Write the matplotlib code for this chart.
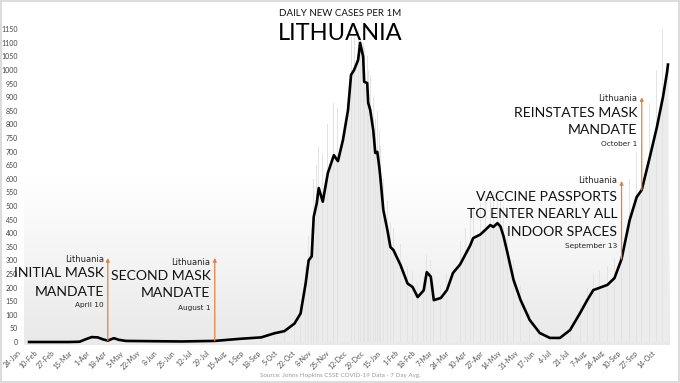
import matplotlib
matplotlib.use('Agg')
import matplotlib.pyplot as plt
import matplotlib.dates as mdates
from matplotlib.colors import LinearSegmentedColormap
import numpy as np
import pandas as pd

plt.rcParams['font.family'] = ['Lato', 'DejaVu Sans']

# 7-day average, new cases per 1M
dates = ['2020-01-31', '2020-02-20', '2020-03-10', '2020-03-21', '2020-03-27', '2020-04-02', '2020-04-08',
         '2020-04-13', '2020-04-18', '2020-04-24', '2020-04-29', '2020-05-06', '2020-05-31', '2020-06-30',
         '2020-08-02', '2020-08-18', '2020-08-28', '2020-09-17', '2020-09-30', '2020-10-10', '2020-10-20',
         '2020-10-26', '2020-10-31', '2020-11-03', '2020-11-06', '2020-11-08', '2020-11-11', '2020-11-13',
         '2020-11-17', '2020-11-22', '2020-11-28', '2020-12-02', '2020-12-07', '2020-12-12', '2020-12-15',
         '2020-12-18', '2020-12-22', '2020-12-24', '2020-12-27', '2020-12-28', '2020-12-31', '2021-01-01',
         '2021-01-03', '2021-01-06', '2021-01-08', '2021-01-10', '2021-01-12', '2021-01-13', '2021-01-16',
         '2021-01-20', '2021-01-23', '2021-01-26', '2021-02-02', '2021-02-09', '2021-02-14', '2021-02-19',
         '2021-02-25', '2021-02-28', '2021-03-04', '2021-03-07', '2021-03-14', '2021-03-20', '2021-03-26',
         '2021-04-02', '2021-04-07', '2021-04-12', '2021-04-15', '2021-04-22', '2021-04-27', '2021-05-02',
         '2021-05-05', '2021-05-09', '2021-05-12', '2021-05-15', '2021-05-19', '2021-05-25', '2021-06-01',
         '2021-06-10', '2021-06-20', '2021-06-30', '2021-07-10', '2021-07-20', '2021-07-30', '2021-08-06',
         '2021-08-12', '2021-08-18', '2021-08-26', '2021-09-02', '2021-09-09', '2021-09-17', '2021-09-24',
         '2021-09-29', '2021-10-07', '2021-10-14', '2021-10-20', '2021-10-24', '2021-10-25']
avg = [0, 0, 0, 1, 10, 18, 17, 10, 5, 14,
       8, 4, 3, 2, 4, 9, 12, 17, 32, 40,
       68, 105, 215, 300, 315, 460, 510, 566, 516, 621,
       687, 665, 743, 853, 982, 1000, 1037, 1100, 1049, 957,
       952, 879, 853, 779, 695, 699, 643, 607, 485, 412,
       349, 338, 283, 215, 202, 165, 190, 257, 240, 154,
       162, 191, 254, 285, 320, 355, 382, 395, 412, 430,
       423, 437, 425, 390, 327, 228, 154, 81, 33, 15,
       15, 44, 107, 154, 191, 199, 210, 235, 305, 448,
       533, 559, 680, 790, 900, 990, 1020]
# faint daily bars behind the line
daily = [0, 0, 0, 2, 14, 25, 22, 15, 8, 20,
         12, 6, 5, 4, 6, 14, 18, 25, 45, 55,
         95, 140, 280, 390, 420, 600, 650, 720, 690, 800,
         880, 860, 950, 1050, 1120, 1130, 1150, 1120, 1100, 1080,
         1050, 1000, 980, 900, 820, 850, 780, 720, 600, 520,
         440, 420, 360, 280, 260, 220, 240, 320, 300, 210,
         210, 250, 330, 370, 420, 460, 500, 510, 540, 560,
         550, 560, 540, 500, 420, 300, 210, 110, 50, 25,
         25, 60, 140, 200, 250, 260, 280, 310, 400, 600,
         700, 740, 880, 1000, 1150, 1120, 1100]

yticks = list(range(0, 1151, 50))

# annotations
note_dates = ['2020-04-18', '2020-08-02', '2021-09-09', '2021-09-29']
note_base = [5, 4, 305, 559]
note_top = [309, 309, 592, 900]
note_heads = [['INITIAL MASK', 'MANDATE'], ['SECOND MASK', 'MANDATE'],
              ['VACCINE PASSPORTS', 'TO ENTER NEARLY ALL', 'INDOOR SPACES'],
              ['REINSTATES MASK', 'MANDATE']]
note_when = ['April 10', 'August 1', 'September 13', 'October 1']
note_small_y = [305, 294, 592, 896]
note_line_y = [[254, 185], [244, 179], [534, 469, 405], [841, 779]]
note_when_y = [136, 125, 354, 728]

x = pd.to_datetime(dates)

fig = plt.figure(figsize=(6.8, 3.83), dpi=100)
fig.patch.set_edgecolor('#dcdcdc')
fig.patch.set_linewidth(1.5)
ax = fig.add_axes([22/680, 38/383, 648/680, 337/383])

x0 = mdates.date2num(pd.Timestamp('2020-01-26'))
x1 = mdates.date2num(pd.Timestamp('2021-10-27'))
y0, y1 = -11, 1228
cmap = LinearSegmentedColormap.from_list('bg', ['#ffffff', '#ffffff', '#e9e9e9'])
ax.imshow(np.linspace(0, 1, 256).reshape(-1, 1), cmap=cmap, extent=[x0, x1, y0, y1],
          aspect='auto', origin='upper', zorder=0)

ax.fill_between(x, avg, 0, color='#ececec', lw=0, zorder=1)
ax.bar(x, daily, width=0.9, color='#e3e3e3', lw=0, zorder=1)
ax.plot(x, avg, color='black', lw=1.9, zorder=3, solid_joinstyle='round')

ax.set_xlim(x0, x1)
ax.set_ylim(y0, y1)
for s in ax.spines.values():
    s.set_visible(False)

ax.set_yticks(yticks)
ax.set_yticklabels([str(v) for v in yticks], fontsize=5, color='#444444')
ticks = pd.date_range('2020-01-24', '2021-10-14', freq='17D')
ax.set_xticks(ticks)
ax.set_xticklabels([f"{t.day}-{t.strftime('%b')}" for t in ticks], rotation=45, ha='right',
                   fontsize=5, color='#555555')
ax.tick_params(length=0, pad=3)

orange = '#e2823c'
small = ['DejaVu Sans']
for i in range(len(note_dates)):
    d = pd.Timestamp(note_dates[i])
    ax.annotate('', xy=(d, note_top[i]), xytext=(d, note_base[i]),
                arrowprops=dict(arrowstyle='-|>', color=orange, lw=0.9, mutation_scale=5,
                                shrinkA=0, shrinkB=0), zorder=4)
    ax.annotate('Lithuania', xy=(d, note_small_y[i]), xytext=(-3, 0), textcoords='offset points',
                ha='right', va='center', fontsize=6, family=small, color='#222222', zorder=5)
    for line, ly in zip(note_heads[i], note_line_y[i]):
        ax.annotate(line, xy=(d, ly), xytext=(-3, 0), textcoords='offset points',
                    ha='right', va='center', fontsize=10.1, color='#111111', zorder=5)
    ax.annotate(note_when[i], xy=(d, note_when_y[i]), xytext=(-3, 0), textcoords='offset points',
                ha='right', va='center', fontsize=5.3, family=small, color='#222222', zorder=5)

fig.text(0.5, 1 - 13/383, 'DAILY NEW CASES PER 1M', ha='center', va='center', fontsize=7, color='#111111')
fig.text(0.5, 1 - 33/383, 'LITHUANIA', ha='center', va='center', fontsize=17, color='#000000')
fig.text(0.5, 1 - 376/383, 'Source: Johns Hopkins CSSE COVID-19 Data - 7 Day Avg.', ha='center',
         va='center', fontsize=4.5, color='#9a9a9a')

fig.savefig('out.png', dpi=100, edgecolor=fig.get_edgecolor())
